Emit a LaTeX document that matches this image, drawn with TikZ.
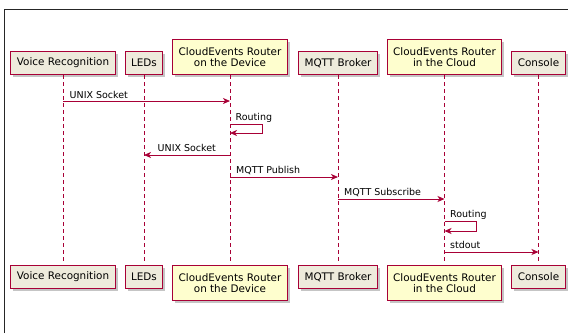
\documentclass[tikz,border=0pt]{standalone}
\usepackage{fontspec}
\setmainfont{DejaVu Sans}
\usetikzlibrary{arrows.meta,shadows}
\definecolor{umlred}{HTML}{A80036}
\definecolor{umlbeige}{HTML}{EEEBDC}
\definecolor{umlyellow}{HTML}{FEFECE}
\begin{document}
\begin{tikzpicture}[x=1pt,y=-1pt,
  part/.style={draw=umlred,line width=1pt,fill=umlbeige,minimum height=23pt,inner xsep=6pt,inner ysep=1pt,align=center,
    font=\fontsize{10.4}{11.7}\selectfont,drop shadow={shadow xshift=2.5pt,shadow yshift=-2.5pt,fill=black!45,opacity=.5}},
  router/.style={part,fill=umlyellow,minimum height=35pt},
  life/.style={draw=umlred,line width=.8pt,dash pattern=on 4pt off 3pt},
  msg/.style={draw=umlred,line width=.8pt,-{Stealth[length=7pt,width=6pt,inset=2pt]}},
  lbl/.style={font=\fontsize{9.5}{11}\selectfont,inner sep=0pt,anchor=base west}]
\useasboundingbox (0,0) rectangle (568,333);
\draw[line width=1pt,black!85] (4.3,333) -- (4.3,9) -- (568,9);
% participants, top row
\node[part,anchor=south](VR1) at (63,75){Voice Recognition};
\node[part,anchor=south](LE1) at (144,75){LEDs};
\node[router,anchor=south](CD1) at (230,75){CloudEvents Router\\on the Device};
\node[part,anchor=south](MB1) at (338,75){MQTT Broker};
\node[router,anchor=south](CC1) at (444.5,75){CloudEvents Router\\in the Cloud};
\node[part,anchor=south](CO1) at (538.5,75){Console};
% participants, bottom row
\node[part,anchor=north](VR2) at (63,265){Voice Recognition};
\node[part,anchor=north](LE2) at (144,265){LEDs};
\node[router,anchor=north](CD2) at (230,265){CloudEvents Router\\on the Device};
\node[part,anchor=north](MB2) at (338,265){MQTT Broker};
\node[router,anchor=north](CC2) at (444.5,265){CloudEvents Router\\in the Cloud};
\node[part,anchor=north](CO2) at (538.5,265){Console};
\foreach \p in {VR,LE,CD,MB,CC,CO}
  \draw[life] (\p1) -- ([yshift=3pt]\p2.north);
% messages
\coordinate (M1) at (0,101);
\coordinate (M2) at (0,124);
\coordinate (M3) at (0,155);
\coordinate (M4) at (0,177);
\coordinate (M5) at (0,199);
\coordinate (M6) at (0,221);
\coordinate (M7) at (0,252);
\draw[msg] (VR1 |- M1) -- (CD1 |- M1);
\path (VR1 |- M1) ++(6.5,-3) node[lbl](T1){UNIX Socket};
\draw[msg] (CD1 |- M2) -- ++(32,0) -- ++(0,9) -- ++(-32,0);
\path (CD1 |- M2) ++(5.5,-4) node[lbl](T2){Routing};
\draw[msg] (CD1 |- M3) -- (LE1 |- M3);
\path (LE1 |- M3) ++(13.5,-3.3) node[lbl](T3){UNIX Socket};
\draw[msg] (CD1 |- M4) -- (MB1 |- M4);
\path (CD1 |- M4) ++(6,-3.5) node[lbl](T4){MQTT Publish};
\draw[msg] (MB1 |- M5) -- (CC1 |- M5);
\path (MB1 |- M5) ++(6,-3.5) node[lbl](T5){MQTT Subscribe};
\draw[msg] (CC1 |- M6) -- ++(32,0) -- ++(0,10) -- ++(-32,0);
\path (CC1 |- M6) ++(5.5,-4) node[lbl](T6){Routing};
\draw[msg] (CC1 |- M7) -- (CO1 |- M7);
\path (CC1 |- M7) ++(5.5,-3.5) node[lbl](T7){stdout};
\end{tikzpicture}
\end{document}
